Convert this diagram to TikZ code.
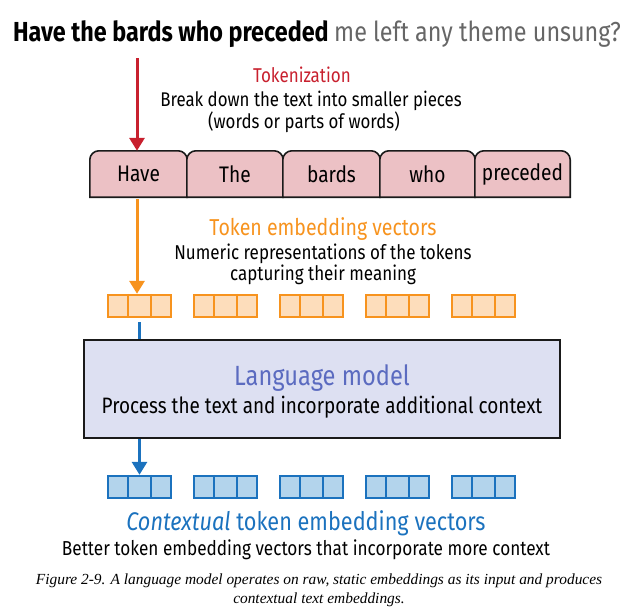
\documentclass[tikz,border=0pt]{standalone}
\usepackage{fontspec}
\setmainfont{Fira Sans}[FakeStretch=0.85]
\newfontfamily\capfont{Liberation Serif}
\usetikzlibrary{arrows.meta}
\definecolor{tred}{HTML}{C8202E}
\definecolor{torange}{HTML}{F7931E}
\definecolor{tblue}{HTML}{1B72BE}
\definecolor{lmfill}{HTML}{DDE0F2}
\definecolor{lmtext}{HTML}{5B6BC0}
\definecolor{tokfill}{HTML}{ECC1C5}
\definecolor{ofill}{HTML}{FDDDBB}
\definecolor{bfill}{HTML}{B3D4EC}
\definecolor{graytext}{HTML}{666666}
\definecolor{darkline}{HTML}{1A1A1A}
\tikzset{
  x=1pt, y=1pt,
  txt/.style={inner sep=0pt, anchor=base},
  tok/.style={minimum width=96pt, minimum height=46pt, inner sep=0pt, font=\fontsize{22.5}{26}\selectfont},
  vecbox/.style={draw=#1, line width=2.4pt, minimum width=63pt, minimum height=22pt, inner sep=0pt},
  arr/.style={line width=3pt, draw=#1, -{Triangle[width=15pt,length=13pt,fill=#1]}},
  lmbox/.style={draw=darkline, fill=lmfill, line width=2pt, minimum width=476pt, minimum height=98pt, inner sep=0pt},
}
\begin{document}
\begin{tikzpicture}
\useasboundingbox (0,0) rectangle (633,-616);
% title
\node[txt] (title) at (317,-41) {\fontsize{27.5}{32}\selectfont\bfseries Have the bards who preceded \textcolor{graytext}{\mdseries me left any theme unsung?}};
% tokenization labels
\node[txt, text=tred] (tokl) at (302,-82) {\fontsize{20}{24}\selectfont Tokenization};
\node[txt] (tokd1) at (311,-106) {\fontsize{19.8}{22}\selectfont Break down the text into smaller pieces};
\node[txt] (tokd2) at (304,-128) {\fontsize{19.8}{22}\selectfont (words or parts of words)};
% token boxes
\foreach \cx/\w/\t/\n in {138.5/97/Have/t1, 235/96/The/t2, 331.5/97/bards/t3, 427.5/95/who/t4, 522.5/95/preceded/t5}{
  \node[tok, minimum width=\w pt] (\n) at (\cx,-174) {\t};
  \draw[darkline, line width=1.6pt, fill=tokfill]
    (\n.south west) -- ([yshift=-9pt]\n.north west) arc(180:90:9pt) -- ([xshift=-9pt]\n.north east) arc(90:0:9pt) -- (\n.south east) -- cycle;
  \node[tok, minimum width=\w pt] at (\n) {\t};
}
% red arrow
\coordinate (rs) at (137,-58);
\draw[arr=tred] (rs) -- (rs |- t1.north);
% token embedding labels
\node[txt, text=torange] (tel) at (323,-235) {\fontsize{23}{26}\selectfont Token embedding vectors};
\node[txt] (ted1) at (323,-259) {\fontsize{20}{22}\selectfont Numeric representations of the tokens};
\node[txt] (ted2) at (323,-280) {\fontsize{20}{22}\selectfont capturing their meaning};
% orange vectors
\foreach \cx/\n in {139.5/v1, 225.5/v2, 311.5/v3, 397.5/v4, 483.5/v5}{
  \node[vecbox=torange, fill=ofill] (\n) at (\cx,-306) {};
  \draw[torange, line width=2.4pt] ([xshift=21pt]\n.north west) -- ([xshift=21pt]\n.south west)
    ([xshift=-21pt]\n.north east) -- ([xshift=-21pt]\n.south east);
}
\coordinate (os) at (137,-199);
\draw[arr=torange] (os) -- (os |- v1.north);
% language model
\node[lmbox] (lm) at (322,-389) {};
\node[txt, text=lmtext] (lmt) at (322,-385) {\fontsize{27.8}{30}\selectfont Language model};
\node[txt] (lmd) at (322,-413) {\fontsize{22.3}{24}\selectfont Process the text and incorporate additional context};
\coordinate (bs) at (139,-322);
\draw[tblue, line width=3pt] (bs) -- (bs |- lm.north);
% blue vectors
\foreach \cx/\n in {139.5/c1, 225.5/c2, 311.5/c3, 397.5/c4, 483.5/c5}{
  \node[vecbox=tblue, fill=bfill] (\n) at (\cx,-487) {};
  \draw[tblue, line width=2.4pt] ([xshift=21pt]\n.north west) -- ([xshift=21pt]\n.south west)
    ([xshift=-21pt]\n.north east) -- ([xshift=-21pt]\n.south east);
}
\draw[arr=tblue] (c1.north |- lm.south) -- (c1.north);
% contextual labels
\node[txt, text=tblue] (ctl) at (306,-530) {\fontsize{25.5}{28}\selectfont\textit{Contextual} token embedding vectors};
\node[txt] (ctd) at (306,-555) {\fontsize{20.2}{22}\selectfont Better token embedding vectors that incorporate more context};
% caption
\node[txt] (cap1) at (319,-584) {\capfont\itshape\fontsize{15.4}{17}\selectfont Figure 2-9. A language model operates on raw, static embeddings as its input and produces};
\node[txt] (cap2) at (319,-603) {\capfont\itshape\fontsize{15.4}{17}\selectfont contextual text embeddings.};
\end{tikzpicture}
\end{document}
